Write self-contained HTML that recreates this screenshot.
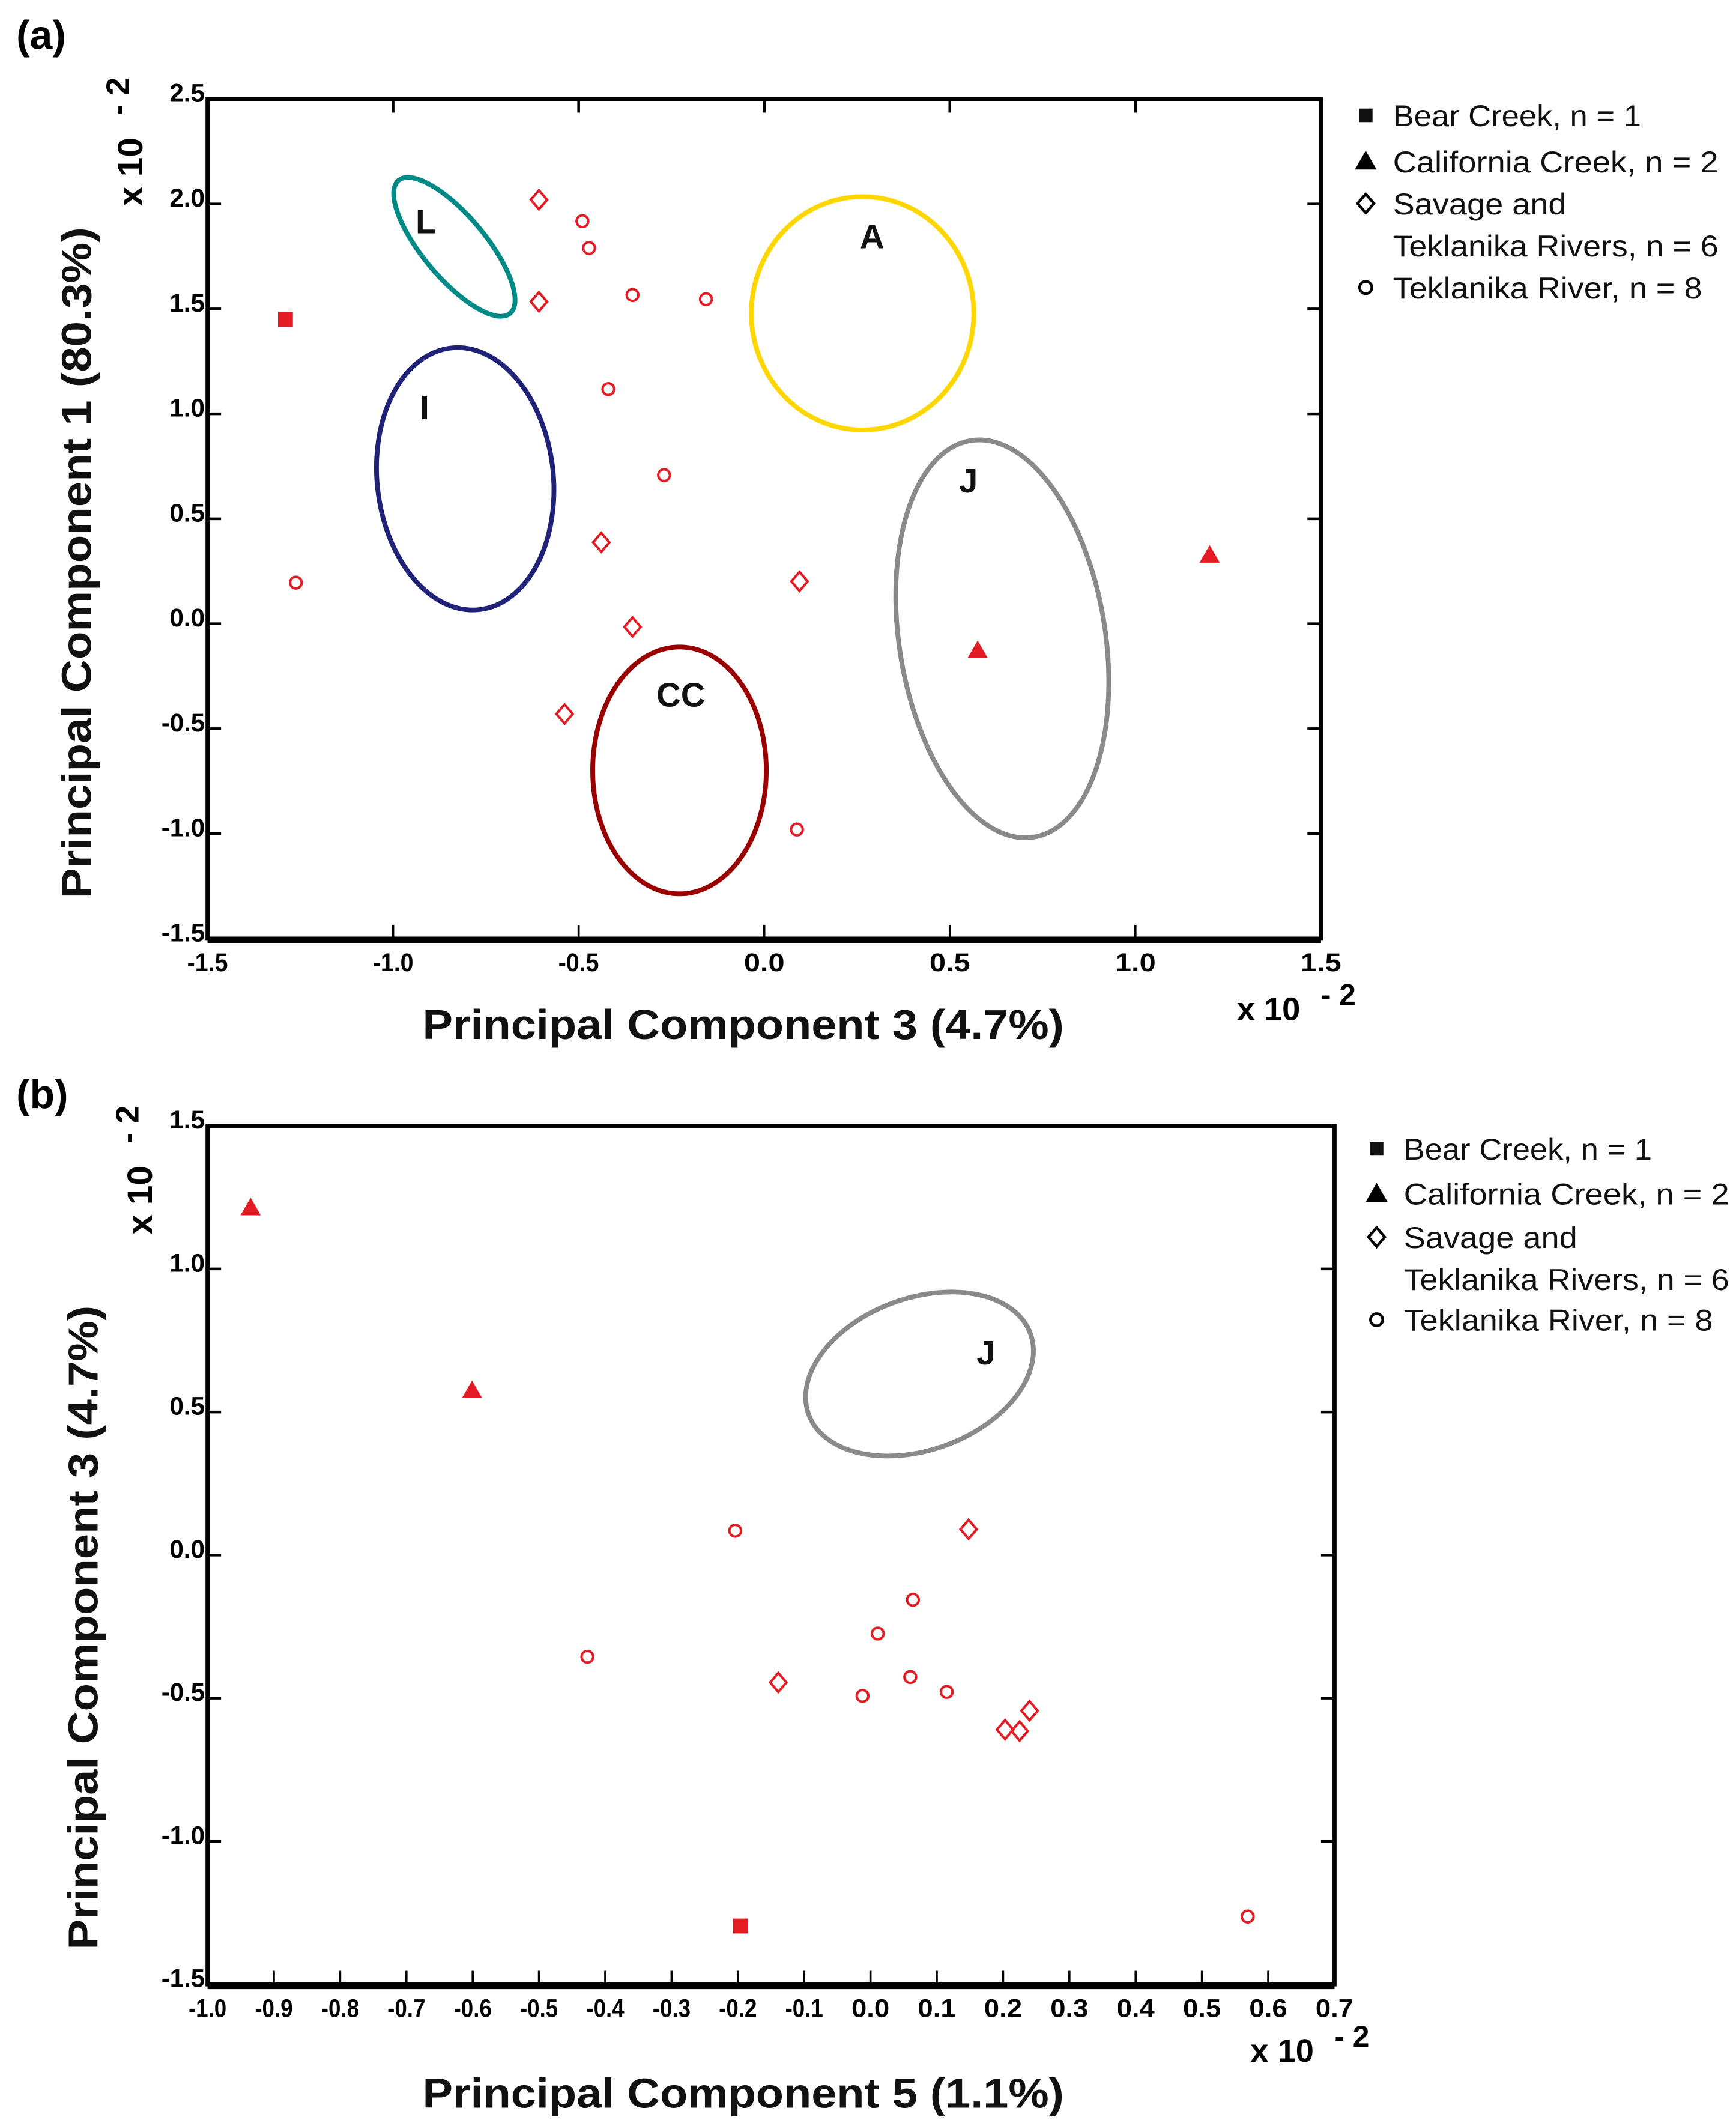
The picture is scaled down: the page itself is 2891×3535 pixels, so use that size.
<!DOCTYPE html>
<html><head><meta charset="utf-8">
<style>
html,body{margin:0;padding:0;background:#fff;}
svg{display:block;}
text{font-family:"Liberation Sans",sans-serif;}
.tk{font-weight:bold;font-size:19px;fill:#000;}
.ttl{font-weight:bold;font-size:31px;fill:#111;}
.lg{font-size:22px;fill:#111;}
.lab{font-weight:bold;font-size:25px;fill:#111;}
</style></head>
<body>
<svg id="fig" width="2891" height="3535" viewBox="0 0 1280 1565.2" preserveAspectRatio="none" xmlns="http://www.w3.org/2000/svg">
<rect width="1280" height="1565.2" fill="#fff"/>
<text x="12" y="36" font-size="30" font-weight="bold">(a)</text>
<text x="12" y="817" font-size="30" font-weight="bold">(b)</text>
<g id="pa"></g>
<g id="pb"></g>
</svg>
<script>
// ---- Panel (a) data: PC3 (x) vs PC1 (y), x10^-2
const aBearX=[-1.29], aBearY=[1.45];
const aCalX=[1.20,0.575], aCalY=[0.33,-0.125];
const aSavX=[-0.607,-0.607,-0.439,-0.355,-0.538,0.095];
const aSavY=[2.02,1.534,0.388,-0.015,-0.43,0.202];
const aTekX=[-0.49,-0.472,-0.355,-0.157,-0.42,-0.27,-1.262,0.088];
const aTekY=[1.918,1.79,1.566,1.546,1.118,0.708,0.196,-0.98];
const aXTicks=["-1.5","-1.0","-0.5","0.0","0.5","1.0","1.5"];
const aYTicks=["-1.5","-1.0","-0.5","0.0","0.5","1.0","1.5","2.0","2.5"];
// ---- Panel (b) data: PC5 (x) vs PC3 (y), x10^-2
const bBearX=[-0.196], bBearY=[-1.296];
const bCalX=[-0.935,-0.601], bCalY=[1.216,0.577];
const bSavX=[0.148,-0.139,0.203,0.225,0.24];
const bSavY=[0.09,-0.445,-0.61,-0.615,-0.544];
const bTekX=[-0.204,-0.427,0.011,0.064,-0.012,0.06,0.115,0.569];
const bTekY=[0.085,-0.355,-0.274,-0.156,-0.492,-0.426,-0.478,-1.263];
const bXTicks=["-1.0","-0.9","-0.8","-0.7","-0.6","-0.5","-0.4","-0.3","-0.2","-0.1","0.0","0.1","0.2","0.3","0.4","0.5","0.6","0.7"];
const bYTicks=["-1.5","-1.0","-0.5","0.0","0.5","1.0","1.5"];

const NS="http://www.w3.org/2000/svg";
const RED="#e31b23";
function mk(p,tag,at,txt){const e=document.createElementNS(NS,tag);for(const k in at)e.setAttribute(k,at[k]);if(txt!==undefined)e.textContent=txt;p.appendChild(e);return e;}

function drawPanel(g,cfg){
  const sx=v=>cfg.L+(v-cfg.x0)/(cfg.x1-cfg.x0)*(cfg.R-cfg.L);
  const sy=v=>cfg.B-(v-cfg.y0)/(cfg.y1-cfg.y0)*(cfg.B-cfg.T);
  cfg.ells.forEach(e=>{
    const el=mk(g,'ellipse',{cx:e.cx,cy:e.cy,rx:e.rx,ry:e.ry,transform:`rotate(${e.r} ${e.cx} ${e.cy})`,fill:'none',stroke:e.c,'stroke-width':3.5});
    
    
    const t=mk(g,'text',{x:e.lx,y:e.ly,'text-anchor':'middle',class:'lab'},e.t);
    
    
  });
  const fr=mk(g,'rect',{x:cfg.L,y:cfg.T,width:cfg.R-cfg.L,height:cfg.B-cfg.T,fill:'none',stroke:'#000','stroke-width':3});
  
  
  mk(g,'line',{x1:cfg.L,x2:cfg.R,y1:cfg.B+1.5,y2:cfg.B+1.5,stroke:'#000','stroke-width':4});
  cfg.xt.forEach(s=>{
    const v=parseFloat(s),x=sx(v);
    if(Math.abs(v-cfg.x0)>1e-6&&Math.abs(v-cfg.x1)>1e-6){
      mk(g,'line',{x1:x,x2:x,y1:cfg.B,y2:cfg.B-10,stroke:'#000','stroke-width':1.6});
      if(cfg.topTicks) mk(g,'line',{x1:x,x2:x,y1:cfg.T,y2:cfg.T+10,stroke:'#000','stroke-width':2});
    }
    const t=mk(g,'text',{x:x,y:cfg.B+24,'text-anchor':'middle',class:'tk',textLength:cfg.xtw,lengthAdjust:'spacingAndGlyphs'},s);
    
    
  });
  cfg.yt.forEach(s=>{
    const v=parseFloat(s),y=sy(v);
    if(Math.abs(v-cfg.y0)>1e-6&&Math.abs(v-cfg.y1)>1e-6){
      mk(g,'line',{x1:cfg.L,x2:cfg.L+10,y1:y,y2:y,stroke:'#000','stroke-width':2});
      mk(g,'line',{x1:cfg.R,x2:cfg.R-10,y1:y,y2:y,stroke:'#000','stroke-width':2});
    }
    const t=mk(g,'text',{x:cfg.L-2,y:y+2,'text-anchor':'end',class:'tk',textLength:s.length>3?32:26,lengthAdjust:'spacingAndGlyphs'},s);
    
    
  });
  cfg.bear[0].forEach((v,i)=>{
    const x=sx(v),y=sy(cfg.bear[1][i]);
    const m=mk(g,'rect',{x:x-5.5,y:y-5.5,width:11,height:11,fill:RED});
    
    
  });
  cfg.cal[0].forEach((v,i)=>{
    const x=sx(v),y=sy(cfg.cal[1][i]);
    const m=mk(g,'polygon',{points:`${x},${y-7} ${x+7.5},${y+6} ${x-7.5},${y+6}`,fill:RED});
    
    
  });
  cfg.sav[0].forEach((v,i)=>{
    const x=sx(v),y=sy(cfg.sav[1][i]);
    const m=mk(g,'polygon',{points:`${x},${y-7} ${x+6},${y} ${x},${y+7} ${x-6},${y}`,fill:'none',stroke:RED,'stroke-width':1.8});
    
    
  });
  cfg.tek[0].forEach((v,i)=>{
    const x=sx(v),y=sy(cfg.tek[1][i]);
    const m=mk(g,'circle',{cx:x,cy:y,r:4.3,fill:'none',stroke:RED,'stroke-width':1.8});
    
    
  });
  const xt=mk(g,'text',{x:cfg.xtx,y:cfg.xty,'text-anchor':'middle',class:'ttl',textLength:473,lengthAdjust:'spacingAndGlyphs'},cfg.xTitle);
  
  
  const yt=mk(g,'text',{x:0,y:0,'text-anchor':'middle',class:'ttl',textLength:cfg.ytl,lengthAdjust:'spacingAndGlyphs',transform:`translate(${cfg.ytx} ${cfg.yty}) rotate(-90)`},cfg.yTitle);
  
  
  const m1=mk(g,'text',{x:0,y:0,'font-size':26,'font-weight':'bold',transform:`translate(${cfg.ymx} ${cfg.ymy}) rotate(-90)`},'x 10');
  
  
  mk(g,'text',{x:0,y:0,'font-size':24,'font-weight':'bold',transform:`translate(${cfg.ymx-10} ${cfg.ymy-67}) rotate(-90)`},'- 2');
  const m2=mk(g,'text',{x:cfg.xmx,y:cfg.xmy,'font-size':24,'font-weight':'bold'},'x 10');
  
  
  mk(g,'text',{x:cfg.xmx+62,y:cfg.xmy-11,'font-size':22,'font-weight':'bold'},'- 2');
  const lg=mk(g,'g',{});
  
  
  const lx=cfg.lgx, ly=cfg.lgy;
  mk(lg,'rect',{x:lx-5,y:ly[0]-5,width:10,height:10,fill:'#111'});
  mk(lg,'polygon',{points:`${lx},${ly[1]-8} ${lx+8},${ly[1]+6} ${lx-8},${ly[1]+6}`,fill:'#000'});
  mk(lg,'polygon',{points:`${lx},${ly[2]-7} ${lx+6},${ly[2]} ${lx},${ly[2]+7} ${lx-6},${ly[2]}`,fill:'none',stroke:'#000','stroke-width':2});
  mk(lg,'circle',{cx:lx,cy:ly[4],r:4.5,fill:'none',stroke:'#000','stroke-width':2});
  const txts=['Bear Creek, n = 1','California Creek, n = 2','Savage and','Teklanika Rivers, n = 6','Teklanika River, n = 8'];
  const tw=[183,240,128,240,228];
  txts.forEach((s,i)=>{
    const t=mk(lg,'text',{x:lx+20,y:ly[i]+8,class:'lg',textLength:tw[i],lengthAdjust:'spacingAndGlyphs'},s);
    
    
  });
}

drawPanel(document.getElementById('pa'),{
  L:153,R:974,T:73,B:692,x0:-1.5,x1:1.5,y0:-1.5,y1:2.5,topTicks:true,xtw:30,
  xt:aXTicks,yt:aYTicks,
  bear:[aBearX,aBearY],cal:[aCalX,aCalY],sav:[aSavX,aSavY],tek:[aTekX,aTekY],
  ells:[
    {name:'cluster-L',cx:335,cy:182,rx:64,ry:23,r:50,c:'#008a87',t:'L',lx:314,ly:172},
    {name:'cluster-I',cx:343,cy:353,rx:65,ry:97,r:-6,c:'#1f2277',t:'I',lx:313,ly:309},
    {name:'cluster-A',cx:636,cy:231,rx:82,ry:86,r:0,c:'#ffd700',t:'A',lx:643,ly:183},
    {name:'cluster-J',cx:739,cy:471,rx:76,ry:148,r:-9,c:'#8a8a8a',t:'J',lx:714,ly:363},
    {name:'cluster-CC',cx:501,cy:568,rx:64,ry:91,r:0,c:'#990000',t:'CC',lx:502,ly:521}
  ],
  xTitle:'Principal Component 3 (4.7%)',xtx:548,xty:766,
  yTitle:'Principal Component 1 (80.3%)',ytx:67,yty:415,ytl:495,
  ymx:105,ymy:152,xmx:912,xmy:752,
  lgx:1007,lgy:[85,119,150,181,212]
});
drawPanel(document.getElementById('pb'),{
  L:153,R:984,T:830,B:1463,x0:-1.0,x1:0.7,y0:-1.5,y1:1.5,topTicks:false,xtw:28,
  xt:bXTicks,yt:bYTicks,
  bear:[bBearX,bBearY],cal:[bCalX,bCalY],sav:[bSavX,bSavY],tek:[bTekX,bTekY],
  ells:[
    {name:'cluster-J',cx:678,cy:1013,rx:87,ry:56,r:-20,c:'#8a8a8a',t:'J',lx:727,ly:1006}
  ],
  xTitle:'Principal Component 5 (1.1%)',xtx:548,xty:1554,
  yTitle:'Principal Component 3 (4.7%)',ytx:72,yty:1200,ytl:475,
  ymx:112,ymy:910,xmx:922,xmy:1520,
  lgx:1015,lgy:[847,880,912,943,973]
});
</script>
</body></html>
